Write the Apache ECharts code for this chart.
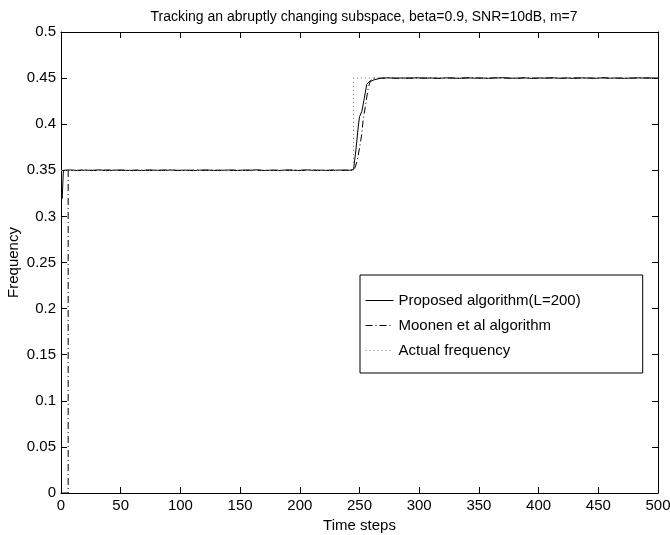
<!DOCTYPE html>
<html><head><meta charset="utf-8">
<script src="https://cdn.jsdelivr.net/npm/echarts@6/dist/echarts.min.js"></script>
<style>html,body{margin:0;padding:0;background:#fff}#c{width:670px;height:535px}</style>
</head><body><div id="c"></div>
<script>
var titleText = 'Tracking an abruptly changing subspace, beta=0.9, SNR=10dB, m=7';
var xTicks = [0,50,100,150,200,250,300,350,400,450,500];
var yTicks = [0,0.05,0.1,0.15,0.2,0.25,0.3,0.35,0.4,0.45,0.5];
var seriesNames = ['Proposed algorithm(L=200)','Moonen et al algorithm','Actual frequency'];

var proposed = [[1,0.319],[2,0.350],[8,0.3504],[14,0.3497],[20,0.3502],[26,0.3499],[32,0.3505],[38,0.3496],[44,0.3501],[50,0.3503],[56,0.3498],[62,0.3502],[68,0.3497],[74,0.3504],[80,0.3500],[86,0.3498],[92,0.3503],[98,0.3499],[104,0.3502],[110,0.3496],[116,0.3501],[122,0.3504],[128,0.3498],[134,0.3500],[140,0.3503],[146,0.3497],[152,0.3502],[158,0.3499],[164,0.3505],[170,0.3498],[176,0.3501],[182,0.3497],[188,0.3503],[194,0.3500],[200,0.3498],[206,0.3504],[212,0.3499],[218,0.3502],[224,0.3497],[230,0.3501],[236,0.3503],[242,0.3500],[245,0.351],[247,0.372],[249,0.398],[250,0.408],[252,0.414],[254,0.428],[256,0.443],[258,0.446],[262,0.448],[268,0.4500],[274,0.4503],[280,0.4498],[286,0.4502],[292,0.4497],[298,0.4504],[304,0.4499],[310,0.4501],[316,0.4496],[322,0.4503],[328,0.4500],[334,0.4498],[340,0.4504],[346,0.4499],[352,0.4502],[358,0.4497],[364,0.4501],[370,0.4505],[376,0.4498],[382,0.4500],[388,0.4503],[394,0.4497],[400,0.4502],[406,0.4499],[412,0.4504],[418,0.4498],[424,0.4501],[430,0.4496],[436,0.4503],[442,0.4500],[448,0.4498],[454,0.4504],[460,0.4499],[466,0.4502],[472,0.4497],[478,0.4501],[484,0.4503],[490,0.4499],[496,0.4502],[500,0.4500]];

var moonen = [[1,0],[6,0],[6,0.350],[12,0.3498],[18,0.3503],[24,0.3500],[30,0.3497],[36,0.3502],[42,0.3504],[48,0.3499],[54,0.3501],[60,0.3496],[66,0.3503],[72,0.3500],[78,0.3498],[84,0.3502],[90,0.3505],[96,0.3499],[102,0.3497],[108,0.3501],[114,0.3503],[120,0.3498],[126,0.3502],[132,0.3500],[138,0.3496],[144,0.3503],[150,0.3499],[156,0.3501],[162,0.3504],[168,0.3498],[174,0.3500],[180,0.3502],[186,0.3497],[192,0.3503],[198,0.3499],[204,0.3501],[210,0.3505],[216,0.3498],[222,0.3500],[228,0.3503],[234,0.3497],[240,0.3501],[244,0.3500],[246,0.352],[248,0.360],[250,0.374],[252,0.390],[253,0.404],[255,0.420],[257,0.437],[259,0.447],[262,0.4500],[268,0.4498],[274,0.4502],[280,0.4500],[286,0.4497],[292,0.4503],[298,0.4499],[304,0.4501],[310,0.4504],[316,0.4498],[322,0.4500],[328,0.4502],[334,0.4497],[340,0.4501],[346,0.4503],[352,0.4498],[358,0.4500],[364,0.4504],[370,0.4499],[376,0.4501],[382,0.4497],[388,0.4502],[394,0.4500],[400,0.4498],[406,0.4503],[412,0.4500],[418,0.4497],[424,0.4502],[430,0.4504],[436,0.4499],[442,0.4501],[448,0.4498],[454,0.4503],[460,0.4500],[466,0.4497],[472,0.4502],[478,0.4499],[484,0.4501],[490,0.4503],[496,0.4498],[500,0.4500]];

var actual = [[0,0.35],[245,0.35],[245,0.45],[500,0.45]];

var FONT = 'Liberation Sans, Arial, Helvetica, sans-serif';
var chart = echarts.init(document.getElementById('c'), null, {renderer:'canvas'});
var axLine = {show:true, onZero:false, lineStyle:{color:'#000', width:1}};
var tick = {show:true, inside:true, length:6, lineStyle:{color:'#000', width:1}};
var lbl = {color:'#000', fontFamily:FONT, fontSize:15};
chart.setOption({
  animation:false,
  backgroundColor:'#fff',
  title:{text:titleText, left:359, top:5, textAlign:'center',
    textStyle:{fontFamily:FONT, fontSize:14, fontWeight:'normal', color:'#000'}},
  grid:{left:61, right:12, top:32, bottom:42, containLabel:false, outerBoundsMode:'none'},
  legend:{
    show:true, orient:'vertical', left:360, top:275,
    data:seriesNames,
    backgroundColor:'#fff', borderColor:'#000', borderWidth:1,
    padding:[18,62,15,5], itemGap:10, itemWidth:28, itemHeight:14,
    itemStyle:{opacity:0},
    lineStyle:{width:1},
    textStyle:{fontFamily:FONT, fontSize:15, color:'#000'}
  },
  xAxis:[
    {type:'value', min:0, max:500, interval:50, position:'bottom',
     axisLine:axLine, axisTick:tick, splitLine:{show:false},
     axisLabel:Object.assign({margin:5}, lbl),
     name:'Time steps', nameLocation:'middle', nameGap:24,
     nameTextStyle:{fontFamily:FONT, fontSize:15, color:'#000'}},
    {type:'value', min:0, max:500, interval:50, position:'top',
     axisLine:axLine, axisTick:tick, splitLine:{show:false}, axisLabel:{show:false}}
  ],
  yAxis:[
    {type:'value', min:0, max:0.5, interval:0.05, position:'left',
     axisLine:axLine, axisTick:tick, splitLine:{show:false},
     axisLabel:Object.assign({margin:5}, lbl),
     name:'Frequency', nameLocation:'middle', nameGap:40, nameMoveOverlap:false,
     nameTextStyle:{fontFamily:FONT, fontSize:15, color:'#000'}},
    {type:'value', min:0, max:0.5, interval:0.05, position:'right',
     axisLine:axLine, axisTick:tick, splitLine:{show:false}, axisLabel:{show:false}}
  ],
  series:[
    {name:seriesNames[0], type:'line', data:proposed, showSymbol:false, symbol:'none',
     lineStyle:{color:'#000', width:1, type:'solid'}, itemStyle:{color:'#000'}},
    {name:seriesNames[1], type:'line', data:moonen, showSymbol:false, symbol:'none',
     lineStyle:{color:'#000', width:1, type:[7,3,1,3]}, itemStyle:{color:'#000'}},
    {name:seriesNames[2], type:'line', data:actual, showSymbol:false, symbol:'none',
     lineStyle:{color:'#777', width:1, type:[1,3]}, itemStyle:{color:'#777'}}
  ]
});
</script></body></html>
